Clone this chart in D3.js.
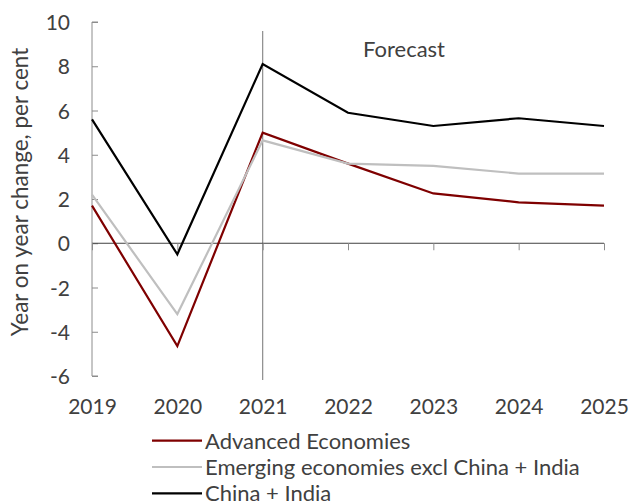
<!DOCTYPE html>
<html><head><meta charset="utf-8">
<script src="https://cdn.jsdelivr.net/npm/d3@7"></script>
<style>body{margin:0;background:#fff}svg{display:block}text{font-family:Lato,"Open Sans",sans-serif;fill:#404040}</style>
</head><body><svg id="c" width="631" height="502"></svg>
<script>
const years = [2019, 2020, 2021, 2022, 2023, 2024, 2025];
const advanced = [1.7, -4.65, 5.0, 3.6, 2.25, 1.85, 1.7];
const emerging = [2.2, -3.2, 4.65, 3.6, 3.5, 3.15, 3.15];
const chinaIndia = [5.6, -0.5, 8.1, 5.9, 5.3, 5.65, 5.3];
const yTicks = [-6, -4, -2, 0, 2, 4, 6, 8, 10];
const seriesNames = ["Advanced Economies", "Emerging economies excl China + India", "China + India"];
const seriesColors = ["#7f0000", "#bfbfbf", "#000000"];
const forecastYear = 2021;

const svg = d3.select("#c");
const x = d3.scaleLinear().domain([2019, 2025]).range([92, 604]);
const y = d3.scaleLinear().domain([-6, 10]).range([376, 22]);

// y axis
const yAxis = svg.append("g").attr("transform", "translate(92,0)")
  .call(d3.axisRight(y).tickValues(yTicks).tickSize(6).tickFormat(d => String(d)));
yAxis.select(".domain").attr("stroke", "#8c8c8c").attr("d", `M6,${y(10)}H0V${y(-6)}H6`);
yAxis.selectAll(".tick line").attr("stroke", "#8c8c8c");
yAxis.selectAll(".tick text").attr("x", -22).attr("text-anchor", "end").attr("dy", "0.36em")
  .style("font-size", "21px").style("fill", "#404040");

// forecast line
svg.append("line").attr("x1", x(forecastYear)).attr("x2", x(forecastYear))
  .attr("y1", 31).attr("y2", 380).attr("stroke", "#8c8c8c").attr("stroke-width", 1.2);

// x axis at zero
const xAxis = svg.append("g").attr("transform", `translate(0,${y(0)})`)
  .call(d3.axisBottom(x).tickValues(years).tickSize(7).tickFormat(d3.format("d")));
xAxis.select(".domain").attr("stroke", "#404040").attr("d", `M${x(2019)},0H${x(2025)}`);
xAxis.selectAll(".tick line").attr("stroke", "#8c8c8c");
xAxis.selectAll(".tick text").attr("y", 0).attr("dy", 0)
  .attr("transform", `translate(0,${414 - y(0)})`)
  .style("font-size", "21px").style("fill", "#404040");

// lines
const all = [advanced, emerging, chinaIndia];
const line = d3.line().x((d, i) => x(years[i])).y(d => y(d));
all.forEach((s, k) => {
  svg.append("path").attr("d", line(s)).attr("fill", "none")
    .attr("stroke", seriesColors[k]).attr("stroke-width", 2.2).attr("stroke-linejoin", "miter");
});

// forecast label
svg.append("text").attr("x", 363).attr("y", 57).text("Forecast").style("font-size", "22px");

// y title
svg.append("text").attr("transform", "translate(28,192) rotate(-90)").attr("text-anchor", "middle")
  .text("Year on year change, per cent").style("font-size", "22.5px");

// legend
const lg = svg.append("g");
seriesNames.forEach((n, k) => {
  const ly = 440.7 + k * 26.3;
  lg.append("line").attr("x1", 152).attr("x2", 202).attr("y1", ly).attr("y2", ly)
    .attr("stroke", seriesColors[k]).attr("stroke-width", 2.2);
  lg.append("text").attr("x", 205).attr("y", ly).attr("dy", "0.36em").text(n).style("font-size", "22px");
});
</script></body></html>
